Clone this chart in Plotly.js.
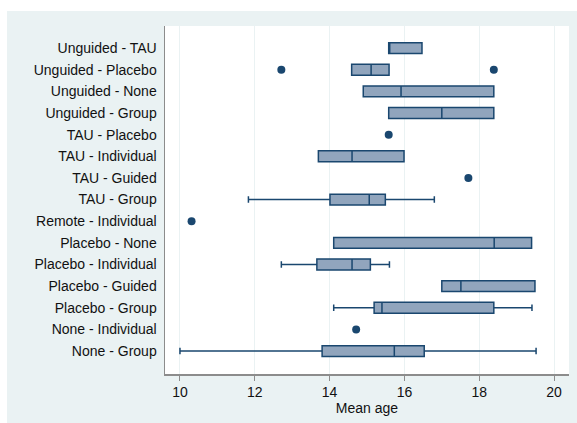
<!DOCTYPE html>
<html>
<head>
<meta charset="utf-8">
<script src="https://cdn.plot.ly/plotly-3.0.1.min.js"></script>
<style>
html,body{margin:0;padding:0;background:#ffffff;width:577px;height:423px;overflow:hidden;}
#chart{position:absolute;left:7px;top:11px;width:570px;height:412px;}
</style>
</head>
<body>
<div id="chart"></div>
<script>
// Categories, top to bottom
var categories = ['Unguided - TAU','Unguided - Placebo','Unguided - None','Unguided - Group','TAU - Placebo','TAU - Individual','TAU - Guided','TAU - Group','Remote - Individual','Placebo - None','Placebo - Individual','Placebo - Guided','Placebo - Group','None - Individual','None - Group'];

// Box statistics (mean age)
var boxCats   = ['Unguided - TAU','Unguided - Placebo','Unguided - None','Unguided - Group','TAU - Individual','TAU - Group','Placebo - None','Placebo - Individual','Placebo - Guided','Placebo - Group','None - Group'];
var q1        = [15.58,14.59,14.90,15.58,13.70,14.01,14.11,13.66,17.00,15.19,13.80];
var medians   = [15.58,15.11,15.91,17.00,14.60,15.06,18.40,14.60,17.51,15.40,15.73];
var q3        = [16.47,15.59,18.39,18.39,15.99,15.49,19.40,15.09,19.49,18.39,16.53];
var lowFence  = [15.58,14.59,14.90,15.58,13.70,11.83,14.11,12.71,17.00,14.11,10.00];
var highFence = [16.47,15.59,18.39,18.39,15.99,16.80,19.40,15.60,19.49,19.41,19.52];

// Single values and outside values
var pointCats = ['Unguided - Placebo','Unguided - Placebo','TAU - Placebo','TAU - Guided','Remote - Individual','None - Individual'];
var pointVals = [12.71,18.39,15.58,17.71,10.31,14.71];

// Axis ticks
var xTicks = [10,12,14,16,18,20];

var navy = '#1a476f';
var fontFam = 'Liberation Sans, Arial, sans-serif';

var boxTrace = {
  type: 'box',
  orientation: 'h',
  y: boxCats,
  q1: q1,
  median: medians,
  q3: q3,
  lowerfence: lowFence,
  upperfence: highFence,
  boxpoints: false,
  width: 0.5,
  whiskerwidth: 0.6,
  fillcolor: '#91a5bd',
  line: {color: navy, width: 1.5},
  hoverinfo: 'skip',
  showlegend: false
};

var pointTrace = {
  type: 'scatter',
  mode: 'markers',
  x: pointVals,
  y: pointCats,
  marker: {color: navy, size: 8, symbol: 'circle', line: {width: 0}},
  hoverinfo: 'skip',
  showlegend: false
};

var layout = {
  width: 570,
  height: 412,
  margin: {l: 158, r: 8, t: 15, b: 49},
  paper_bgcolor: '#eaf2f3',
  plot_bgcolor: '#ffffff',
  font: {family: fontFam, size: 14, color: '#111111'},
  showlegend: false,
  xaxis: {
    range: [9.6, 20.4],
    tickvals: xTicks,
    ticktext: xTicks.map(String),
    ticks: 'outside',
    ticklen: 5,
    tickwidth: 1,
    tickcolor: '#8c8c8c',
    showline: true,
    linecolor: '#8c8c8c',
    linewidth: 1.5,
    showgrid: true,
    gridcolor: '#eaf2f3',
    gridwidth: 1,
    zeroline: false,
    tickfont: {family: fontFam, size: 14, color: '#111111'},
    title: {text: 'Mean age', font: {family: fontFam, size: 14, color: '#111111'}, standoff: 0}
  },
  yaxis: {
    type: 'category',
    categoryorder: 'array',
    categoryarray: categories.slice().reverse(),
    range: [-1.06, 15.02],
    ticks: '',
    showline: true,
    linecolor: '#8c8c8c',
    linewidth: 1.5,
    showgrid: false,
    zeroline: false,
    ticklabelstandoff: 4,
    tickfont: {family: fontFam, size: 14, color: '#111111'}
  }
};

Plotly.newPlot('chart', [boxTrace, pointTrace], layout, {displayModeBar: false, staticPlot: true});
</script>
</body>
</html>
